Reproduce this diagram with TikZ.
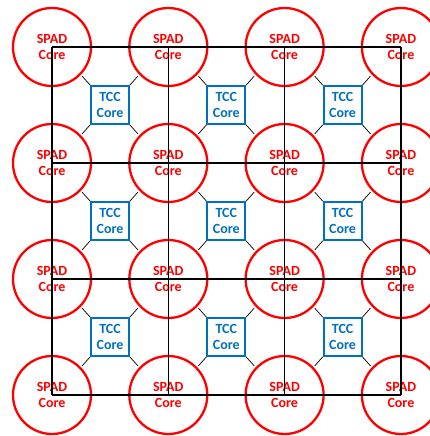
\documentclass[tikz,border=0pt]{standalone}
\usepackage{fontspec}
\setmainfont{Carlito}
\definecolor{spadred}{RGB}{255,0,0}
\definecolor{tccblue}{RGB}{0,112,192}
\begin{document}
\begin{tikzpicture}[x=1pt,y=-1pt,
  spad/.style={circle,draw=spadred,line width=2.3pt,minimum size=78pt,inner sep=0pt,
    text=spadred,font=\fontsize{14}{16}\selectfont\bfseries,align=center},
  tcc/.style={rectangle,draw=tccblue,line width=1.8pt,minimum size=38pt,inner sep=0pt,
    text=tccblue,font=\fontsize{14}{16}\selectfont\bfseries,align=center},
  gridline/.style={black,line width=1.4pt},
  stub/.style={black,line width=0.7pt}]
\useasboundingbox (0,0) rectangle (430,436);
\foreach \i in {0,...,3}{
  \foreach \j in {0,...,3}{
    \node[spad] (s-\i-\j) at ({52+116.3*\j},{47+116*\i}) {SPAD\\Core};
  }
}
\foreach \i in {0,...,2}{
  \foreach \j in {0,...,2}{
    \node[tcc] (t-\i-\j) at ({110+116.3*\j},{105+116*\i}) {TCC\\Core};
    \draw[stub] (t-\i-\j.north west) -- ++(-8,-9);
    \draw[stub] (t-\i-\j.north east) -- ++(8,-9);
    \draw[stub] (t-\i-\j.south west) -- ++(-8,9);
    \draw[stub] (t-\i-\j.south east) -- ++(8,9);
  }
}
\foreach \i in {0,...,3}{
  \draw[gridline] (s-\i-0.center) -- (s-\i-3.center);
  \draw[gridline] (s-0-\i.center) -- (s-3-\i.center);
}
\end{tikzpicture}
\end{document}
